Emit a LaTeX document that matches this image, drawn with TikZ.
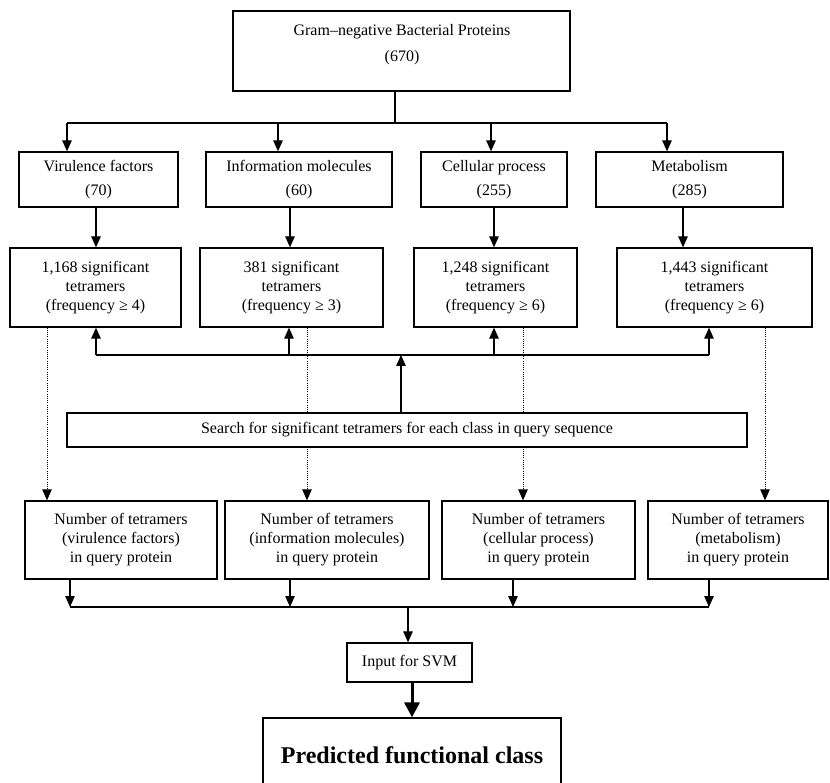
\documentclass[tikz,border=0pt]{standalone}
\usepackage{fontspec}
\setmainfont{Liberation Serif}
\usetikzlibrary{arrows.meta,calc}
\begin{document}
\begin{tikzpicture}[x=1pt,y=-1pt,
  box/.style={draw, line width=1.3pt, fill=white, inner sep=0pt, align=center, font=\fontsize{16}{19}\selectfont},
  rowtwo/.style={box, minimum height=55pt, font=\fontsize{16}{24}\selectfont},
  rowthree/.style={box, minimum height=79pt},
  rowfour/.style={box, minimum height=78pt},
  conn/.style={line width=1.2pt},
  arr/.style={conn, -{Triangle[length=11pt,width=9.5pt]}},
  dotarr/.style={line width=0.8pt, dash pattern=on 1pt off 1.2pt, -{Triangle[length=11pt,width=9.5pt]}},
  thickarr/.style={line width=3pt, -{Triangle[length=15pt,width=15pt]}}
]
\useasboundingbox (0,0) rectangle (830,783);
\clip (0,0) rectangle (830,783);

% top box
\node[box, minimum width=337pt, minimum height=80pt] (top) at (401.5,51) {};
\node[font=\fontsize{16}{26}\selectfont, align=center, inner sep=0pt] (toptext) at (402,45) {Gram–negative Bacterial Proteins\\(670)};

% row 2
\node[rowtwo, minimum width=159pt] (vir) at (98.5,179.5) {Virulence factors\\(70)};
\node[rowtwo, minimum width=186pt] (inf) at (299,179.5) {Information molecules\\(60)};
\node[rowtwo, minimum width=146pt] (cel) at (494,179.5) {Cellular process\\(255)};
\node[rowtwo, minimum width=187pt] (met) at (689.5,179.5) {Metabolism\\(285)};

% row 3
\node[rowthree, minimum width=171pt] (s1) at (95.5,287.5) {1,168 significant\\tetramers\\(frequency ≥ 4)};
\node[rowthree, minimum width=183pt] (s2) at (291.5,287.5) {381 significant\\tetramers\\(frequency ≥ 3)};
\node[rowthree, minimum width=163pt] (s3) at (495.5,287.5) {1,248 significant\\tetramers\\(frequency ≥ 6)};
\node[rowthree, minimum width=195pt] (s4) at (714.5,287.5) {1,443 significant\\tetramers\\(frequency ≥ 6)};

% row 4
\node[rowfour, minimum width=192pt] (q1) at (121,540) {Number of tetramers\\(virulence factors)\\in query protein};
\node[rowfour, minimum width=204pt] (q2) at (327,540) {Number of tetramers\\(information molecules)\\in query protein};
\node[rowfour, minimum width=193pt] (q3) at (538.5,540) {Number of tetramers\\(cellular process)\\in query protein};
\node[rowfour, minimum width=180pt] (q4) at (738,540) {Number of tetramers\\(metabolism)\\in query protein};

% dotted connectors (behind search box)
\coordinate (d1) at (47,0);
\coordinate (d2) at (307,0);
\coordinate (d3) at (523,0);
\coordinate (d4) at (765,0);
\draw[dotarr] (s1.south -| d1) -- (q1.north -| d1);
\draw[dotarr] (s2.south -| d2) -- (q2.north -| d2);
\draw[dotarr] (s3.south -| d3) -- (q3.north -| d3);
\draw[dotarr] (s4.south -| d4) -- (q4.north -| d4);

% search box
\node[box, minimum width=680pt, minimum height=34pt] (search) at (407,430) {Search for significant tetramers for each class in query sequence};

% SVM and prediction
\node[box, minimum width=125pt, minimum height=39pt] (svm) at (409.5,662.5) {Input for SVM};
\node[box, minimum width=298pt, minimum height=82pt] (pred) at (412,759) {};
\node[font=\fontsize{24}{28}\selectfont\bfseries, inner sep=0pt] (predtext) at (412,755) {Predicted functional class};

% top distribution
\coordinate (b1) at (395,123);
\coordinate (a1) at (67,123);
\coordinate (a2) at (278,123);
\coordinate (a3) at (491,123);
\coordinate (a4) at (667,123);
\draw[conn] (top.south -| b1) -- (b1);
\draw[conn] (a1) -- (a4);
\draw[arr] (a1) -- (vir.north -| a1);
\draw[arr] (a2) -- (inf.north -| a2);
\draw[arr] (a3) -- (cel.north -| a3);
\draw[arr] (a4) -- (met.north -| a4);

% row 2 -> row 3
\coordinate (c1) at (96,0);
\coordinate (c2) at (290,0);
\coordinate (c3) at (494,0);
\coordinate (c4) at (683,0);
\draw[arr] (vir.south -| c1) -- (s1.north -| c1);
\draw[arr] (inf.south -| c2) -- (s2.north -| c2);
\draw[arr] (cel.south -| c3) -- (s3.north -| c3);
\draw[arr] (met.south -| c4) -- (s4.north -| c4);

% search -> row 3 (feedback bus)
\coordinate (e0) at (401,355);
\coordinate (e1) at (96,355);
\coordinate (e2) at (289,355);
\coordinate (e3) at (494,355);
\coordinate (e4) at (709,355);
\draw[arr] (search.north -| e0) -- (e0);
\draw[conn] (e1) -- (e4);
\draw[arr] (e1) -- (s1.south -| e1);
\draw[arr] (e2) -- (s2.south -| e2);
\draw[arr] (e3) -- (s3.south -| e3);
\draw[arr] (e4) -- (s4.south -| e4);

% row 4 -> SVM
\coordinate (f1) at (70,607);
\coordinate (f2) at (290,607);
\coordinate (f3) at (513,607);
\coordinate (f4) at (709,607);
\coordinate (f0) at (408,607);
\draw[arr] (q1.south -| f1) -- (f1);
\draw[arr] (q2.south -| f2) -- (f2);
\draw[arr] (q3.south -| f3) -- (f3);
\draw[arr] (q4.south -| f4) -- (f4);
\draw[conn] (f1) -- (f4);
\draw[arr] (f0) -- (svm.north -| f0);

\coordinate (g0) at (412,0);
\draw[thickarr] (svm.south -| g0) -- (pred.north -| g0);
\end{tikzpicture}
\end{document}
